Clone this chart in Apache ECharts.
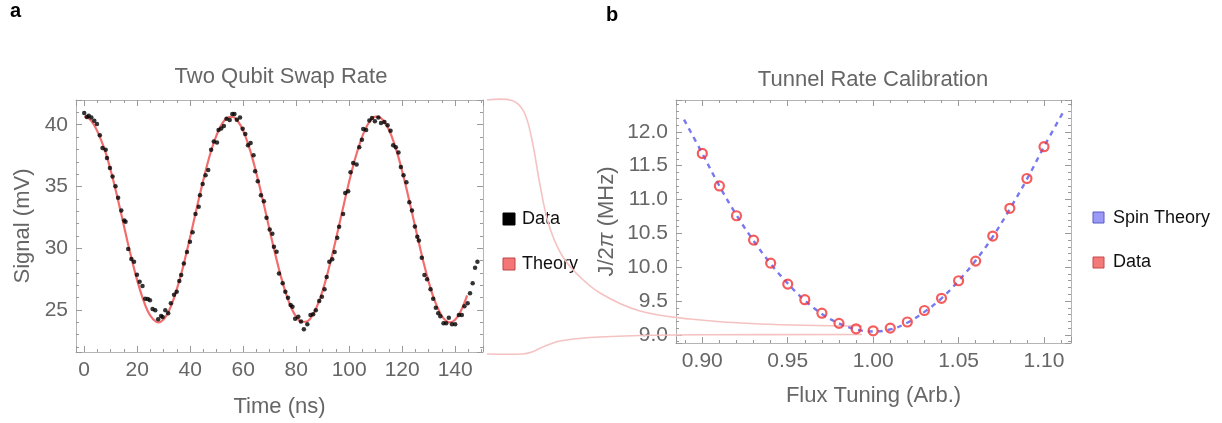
<!DOCTYPE html>
<html><head><meta charset="utf-8">
<script src="https://cdn.jsdelivr.net/npm/echarts@6/dist/echarts.min.js"></script>
<style>html,body{margin:0;padding:0;background:#fff}#c{width:1222px;height:423px}</style>
</head><body><div id="c"></div>
<script>
// ---- Panel a: Two Qubit Swap Rate ----
const timeNs = [0.0,1.0,1.7,2.7,3.8,4.8,5.9,6.9,8.1,8.6,9.7,10.7,11.8,12.8,14.0,15.1,15.6,16.6,17.8,18.8,19.9,20.9,22.0,23.0,24.0,24.8,25.8,26.8,27.9,29.0,29.6,30.6,31.7,32.7,33.9,34.9,35.9,
36.6,37.6,38.8,39.9,40.9,42.0,43.2,43.7,44.7,45.8,46.8,47.9,48.9,50.1,50.7,51.7,52.7,53.7,54.9,55.9,56.7,57.6,58.8,59.8,60.8,61.8,62.8,63.9,64.5,65.5,66.7,67.8,68.8,70.0,71.0,71.6,72.6,73.5,
74.9,75.9,76.9,77.9,78.6,79.6,80.8,81.8,82.9,84.2,85.4,86.4,87.4,88.7,89.7,90.7,91.5,92.5,93.6,94.5,95.5,96.2,97.7,98.5,99.6,100.5,101.5,102.8,103.8,104.8,105.3,106.4,107.6,108.6,109.7,111.0,112.0,
113.3,114.5,115.6,116.6,117.6,118.6,119.5,120.5,121.6,122.7,123.7,124.8,125.7,126.3,127.4,128.4,129.4,130.7,131.7,132.7,133.6,134.4,135.6,136.6,137.6,138.8,140.0,141.4,142.5,143.5,144.7,145.6,146.6,147.5,148.4];
const signalMv = [40.95,40.62,40.73,40.59,40.32,40.05,39.14,38.12,37.98,37.31,36.50,35.80,35.02,34.08,33.05,32.25,32.14,29.93,29.12,28.91,27.86,27.29,26.94,25.92,25.89,25.78,25.08,24.98,24.25,24.52,24.44,24.98,24.73,25.54,26.24,26.48,27.35,
27.83,28.77,29.69,30.52,31.30,32.78,33.35,34.29,35.21,35.91,36.34,37.98,38.65,38.55,39.57,39.70,39.89,40.48,40.38,40.86,40.86,40.40,40.59,39.68,39.25,38.33,38.52,37.52,36.23,35.42,34.29,33.81,32.46,31.52,31.17,30.12,29.71,27.96,
27.16,26.48,26.00,25.41,25.27,24.30,24.46,24.06,23.44,23.85,24.60,24.65,24.98,25.73,26.08,26.67,27.67,28.91,29.10,29.69,30.85,31.73,32.78,34.48,34.61,36.15,36.90,36.77,38.17,38.79,39.65,39.57,40.35,40.54,40.27,40.59,40.13,
40.22,39.95,39.52,38.33,38.17,37.76,36.58,35.91,35.34,33.73,33.05,31.76,30.93,30.63,29.23,27.83,27.48,26.67,25.92,25.19,24.73,24.49,23.93,23.93,24.38,23.84,23.84,24.60,24.60,25.30,25.54,26.35,27.16,28.42,28.91];
const theoryTimeNs = [0,2,4,6,8,10,12,14,16,18,20,22,24,26,28,30,32,34,36,38,40,42,44,46,48,50,52,54,56,58,60,62,64,66,68,70,72,74,76,78,80,82,84,86,88,90,92,94,96,98,100,102,104,106,108,110,112,114,116,118,120,122,124,126,128,130,132,134,136,138,140,142,144,144.5];
const theorySignalMv = [40.66,40.47,39.88,38.95,37.80,36.30,34.60,32.75,30.85,29.05,27.40,26.00,24.90,24.25,24.00,24.25,24.95,26.05,27.45,29.10,30.92,32.82,34.68,36.42,37.95,39.18,40.07,40.56,40.64,40.28,39.50,38.35,36.88,35.18,33.35,31.45,29.60,27.90,26.42,25.25,24.45,24.05,24.07,24.52,25.38,26.58,28.10,29.82,31.68,33.57,35.40,37.06,38.48,39.60,40.33,40.65,40.54,40.01,39.08,37.80,36.24,34.47,32.60,30.71,28.91,27.28,25.92,24.89,24.23,24.00,24.21,24.85,25.87,26.18];

// ---- Panel b: Tunnel Rate Calibration ----
const fluxTuning = [0.90,0.91,0.92,0.93,0.94,0.95,0.96,0.97,0.98,0.99,1.00,1.01,1.02,1.03,1.04,1.05,1.06,1.07,1.08,1.09,1.10];
const tunnelRateMHz = [11.68,11.20,10.76,10.40,10.06,9.75,9.52,9.32,9.17,9.09,9.06,9.10,9.19,9.36,9.54,9.80,10.09,10.46,10.87,11.31,11.78];
const spinTheoryFlux = [0.8893,0.90,0.91,0.92,0.93,0.94,0.95,0.96,0.97,0.98,0.99,1.00,1.01,1.02,1.03,1.04,1.05,1.06,1.07,1.08,1.09,1.10,1.111];
const spinTheoryMHz = [12.18,11.68,11.20,10.77,10.39,10.05,9.76,9.51,9.31,9.17,9.08,9.05,9.08,9.18,9.34,9.54,9.80,10.10,10.45,10.86,11.30,11.78,12.28];

const FONT = '"Liberation Sans", Arial, sans-serif';
const GRAY = '#666666';
const FRAME = '#b4b4b4';
const TICK = '#9a9a9a';

const zip = (a, b) => a.map((v, i) => [v, b[i]]);

function frameAxis(grid, pos, min, max, split, minorSplit, labels, fmt, extra) {
  const ax = {
    gridIndex: grid, type: 'value', position: pos, min: min, max: max, splitNumber: split,
    axisLine: { show: true, onZero: false, lineStyle: { color: FRAME, width: 1 } },
    axisTick: { show: true, inside: true, length: 6, lineStyle: { color: TICK, width: 1 } },
    minorTick: { show: true, splitNumber: minorSplit, length: 3, lineStyle: { color: TICK, width: 1 } },
    splitLine: { show: false }, minorSplitLine: { show: false },
    axisLabel: labels ? { show: true, fontSize: 21, color: GRAY, fontFamily: FONT, margin: 8,
      showMinLabel: false, showMaxLabel: false, formatter: fmt } : { show: false }
  };
  return Object.assign(ax, extra || {});
}
const nameStyle = { fontSize: 22, color: GRAY, fontFamily: FONT };

const chart = echarts.init(document.getElementById('c'), null, { renderer: 'canvas' });
chart.setOption({
  animation: false,
  backgroundColor: '#ffffff',
  grid: [
    { left: 76, top: 100, width: 407, height: 253, containLabel: false },
    { left: 676, top: 100, width: 395, height: 243, containLabel: false }
  ],
  xAxis: [
    frameAxis(0, 'bottom', -3.1, 150.5, 8, 4, true, v => String(Math.round(v)),
      { name: 'Time (ns)', nameLocation: 'middle', nameGap: 44, nameTextStyle: nameStyle }),
    frameAxis(0, 'top', -3.1, 150.5, 8, 4, false),
    frameAxis(1, 'bottom', 0.8846, 1.1158, 5, 5, true, v => v.toFixed(2),
      { name: 'Flux Tuning (Arb.)', nameLocation: 'middle', nameGap: 42, nameTextStyle: nameStyle }),
    frameAxis(1, 'top', 0.8846, 1.1158, 5, 5, false)
  ],
  yAxis: [
    frameAxis(0, 'left', 21.6, 42.0, 4, 5, true, v => String(Math.round(v)),
      { name: 'Signal (mV)', nameLocation: 'middle', nameGap: 42, nameTextStyle: nameStyle }),
    frameAxis(0, 'right', 21.6, 42.0, 4, 5, false),
    frameAxis(1, 'left', 8.88, 12.47, 7, 5, true, v => v.toFixed(1),
      { name: 'J/2{i|π} (MHz)', nameLocation: 'middle', nameGap: 58,
        nameTextStyle: Object.assign({}, nameStyle, { rich: { i: { fontSize: 22, color: GRAY, fontFamily: FONT, fontStyle: 'italic' } } }) }),
    frameAxis(1, 'right', 8.88, 12.47, 7, 5, false)
  ],
  series: [
    { name: 'Theory', type: 'line', xAxisIndex: 0, yAxisIndex: 0, data: zip(theoryTimeNs, theorySignalMv),
      smooth: 0.4, showSymbol: false, symbol: 'none', z: 2,
      lineStyle: { color: '#f26e6e', width: 2.2 } },
    { name: 'Data', type: 'scatter', xAxisIndex: 0, yAxisIndex: 0, data: zip(timeNs, signalMv),
      symbol: 'circle', symbolSize: 4.5, z: 3, itemStyle: { color: '#000000' } },
    { name: 'Spin Theory', type: 'line', xAxisIndex: 2, yAxisIndex: 2, data: zip(spinTheoryFlux, spinTheoryMHz),
      smooth: 0.4, showSymbol: false, symbol: 'none', z: 2,
      lineStyle: { color: '#7878f0', width: 2.4, type: [5, 5] } },
    { name: 'Data b', type: 'scatter', xAxisIndex: 2, yAxisIndex: 2, data: zip(fluxTuning, tunnelRateMHz),
      symbol: 'circle', symbolSize: 9, z: 3,
      itemStyle: { color: 'rgba(255,255,255,0)', borderColor: '#f23535', borderWidth: 2.2 } }
  ],
  graphic: [
    { type: 'polyline', z: 1, silent: true,
      shape: { points: [[487,100],[512,100.5],[524,112],[532,140],[540,185],[548,222],[560,252],[575,272],[600,293],[640,311],[690,319],[760,324],[862,326]], smooth: 0.35 },
      style: { stroke: '#f5c2c2', lineWidth: 1.6, fill: null } },
    { type: 'polyline', z: 1, silent: true,
      shape: { points: [[487,354],[522,354],[532,352],[545,346],[560,341],[590,337.5],[640,335.5],[700,334.8],[862,334.5]], smooth: 0.35 },
      style: { stroke: '#f5c2c2', lineWidth: 1.6, fill: null } },
    { type: 'text', left: 10, top: 1, style: { text: 'a', font: 'bold 20px ' + FONT, fill: '#000' } },
    { type: 'text', left: 606, top: 5, style: { text: 'b', font: 'bold 20px ' + FONT, fill: '#000' } },
    { type: 'text', x: 281, y: 77, style: { text: 'Two Qubit Swap Rate', font: '22px ' + FONT, fill: GRAY, align: 'center', verticalAlign: 'middle' } },
    { type: 'text', x: 873, y: 80, style: { text: 'Tunnel Rate Calibration', font: '22px ' + FONT, fill: GRAY, align: 'center', verticalAlign: 'middle' } },
    { type: 'rect', shape: { x: 503, y: 213, width: 12, height: 12 }, style: { fill: '#000000', stroke: '#000000', lineWidth: 1 } },
    { type: 'text', x: 522, y: 219, style: { text: 'Data', font: '18px ' + FONT, fill: '#111', verticalAlign: 'middle' } },
    { type: 'rect', shape: { x: 503, y: 258, width: 12, height: 12 }, style: { fill: '#f47676', stroke: '#c04444', lineWidth: 1 } },
    { type: 'text', x: 522, y: 264, style: { text: 'Theory', font: '18px ' + FONT, fill: '#111', verticalAlign: 'middle' } },
    { type: 'rect', shape: { x: 1093, y: 212, width: 11, height: 11 }, style: { fill: '#9a9af6', stroke: '#5858c8', lineWidth: 1 } },
    { type: 'text', x: 1113, y: 218, style: { text: 'Spin Theory', font: '18px ' + FONT, fill: '#111', verticalAlign: 'middle' } },
    { type: 'rect', shape: { x: 1093, y: 257, width: 11, height: 11 }, style: { fill: '#f47a7a', stroke: '#c44848', lineWidth: 1 } },
    { type: 'text', x: 1113, y: 262, style: { text: 'Data', font: '18px ' + FONT, fill: '#111', verticalAlign: 'middle' } }
  ]
});
</script>
</body></html>
